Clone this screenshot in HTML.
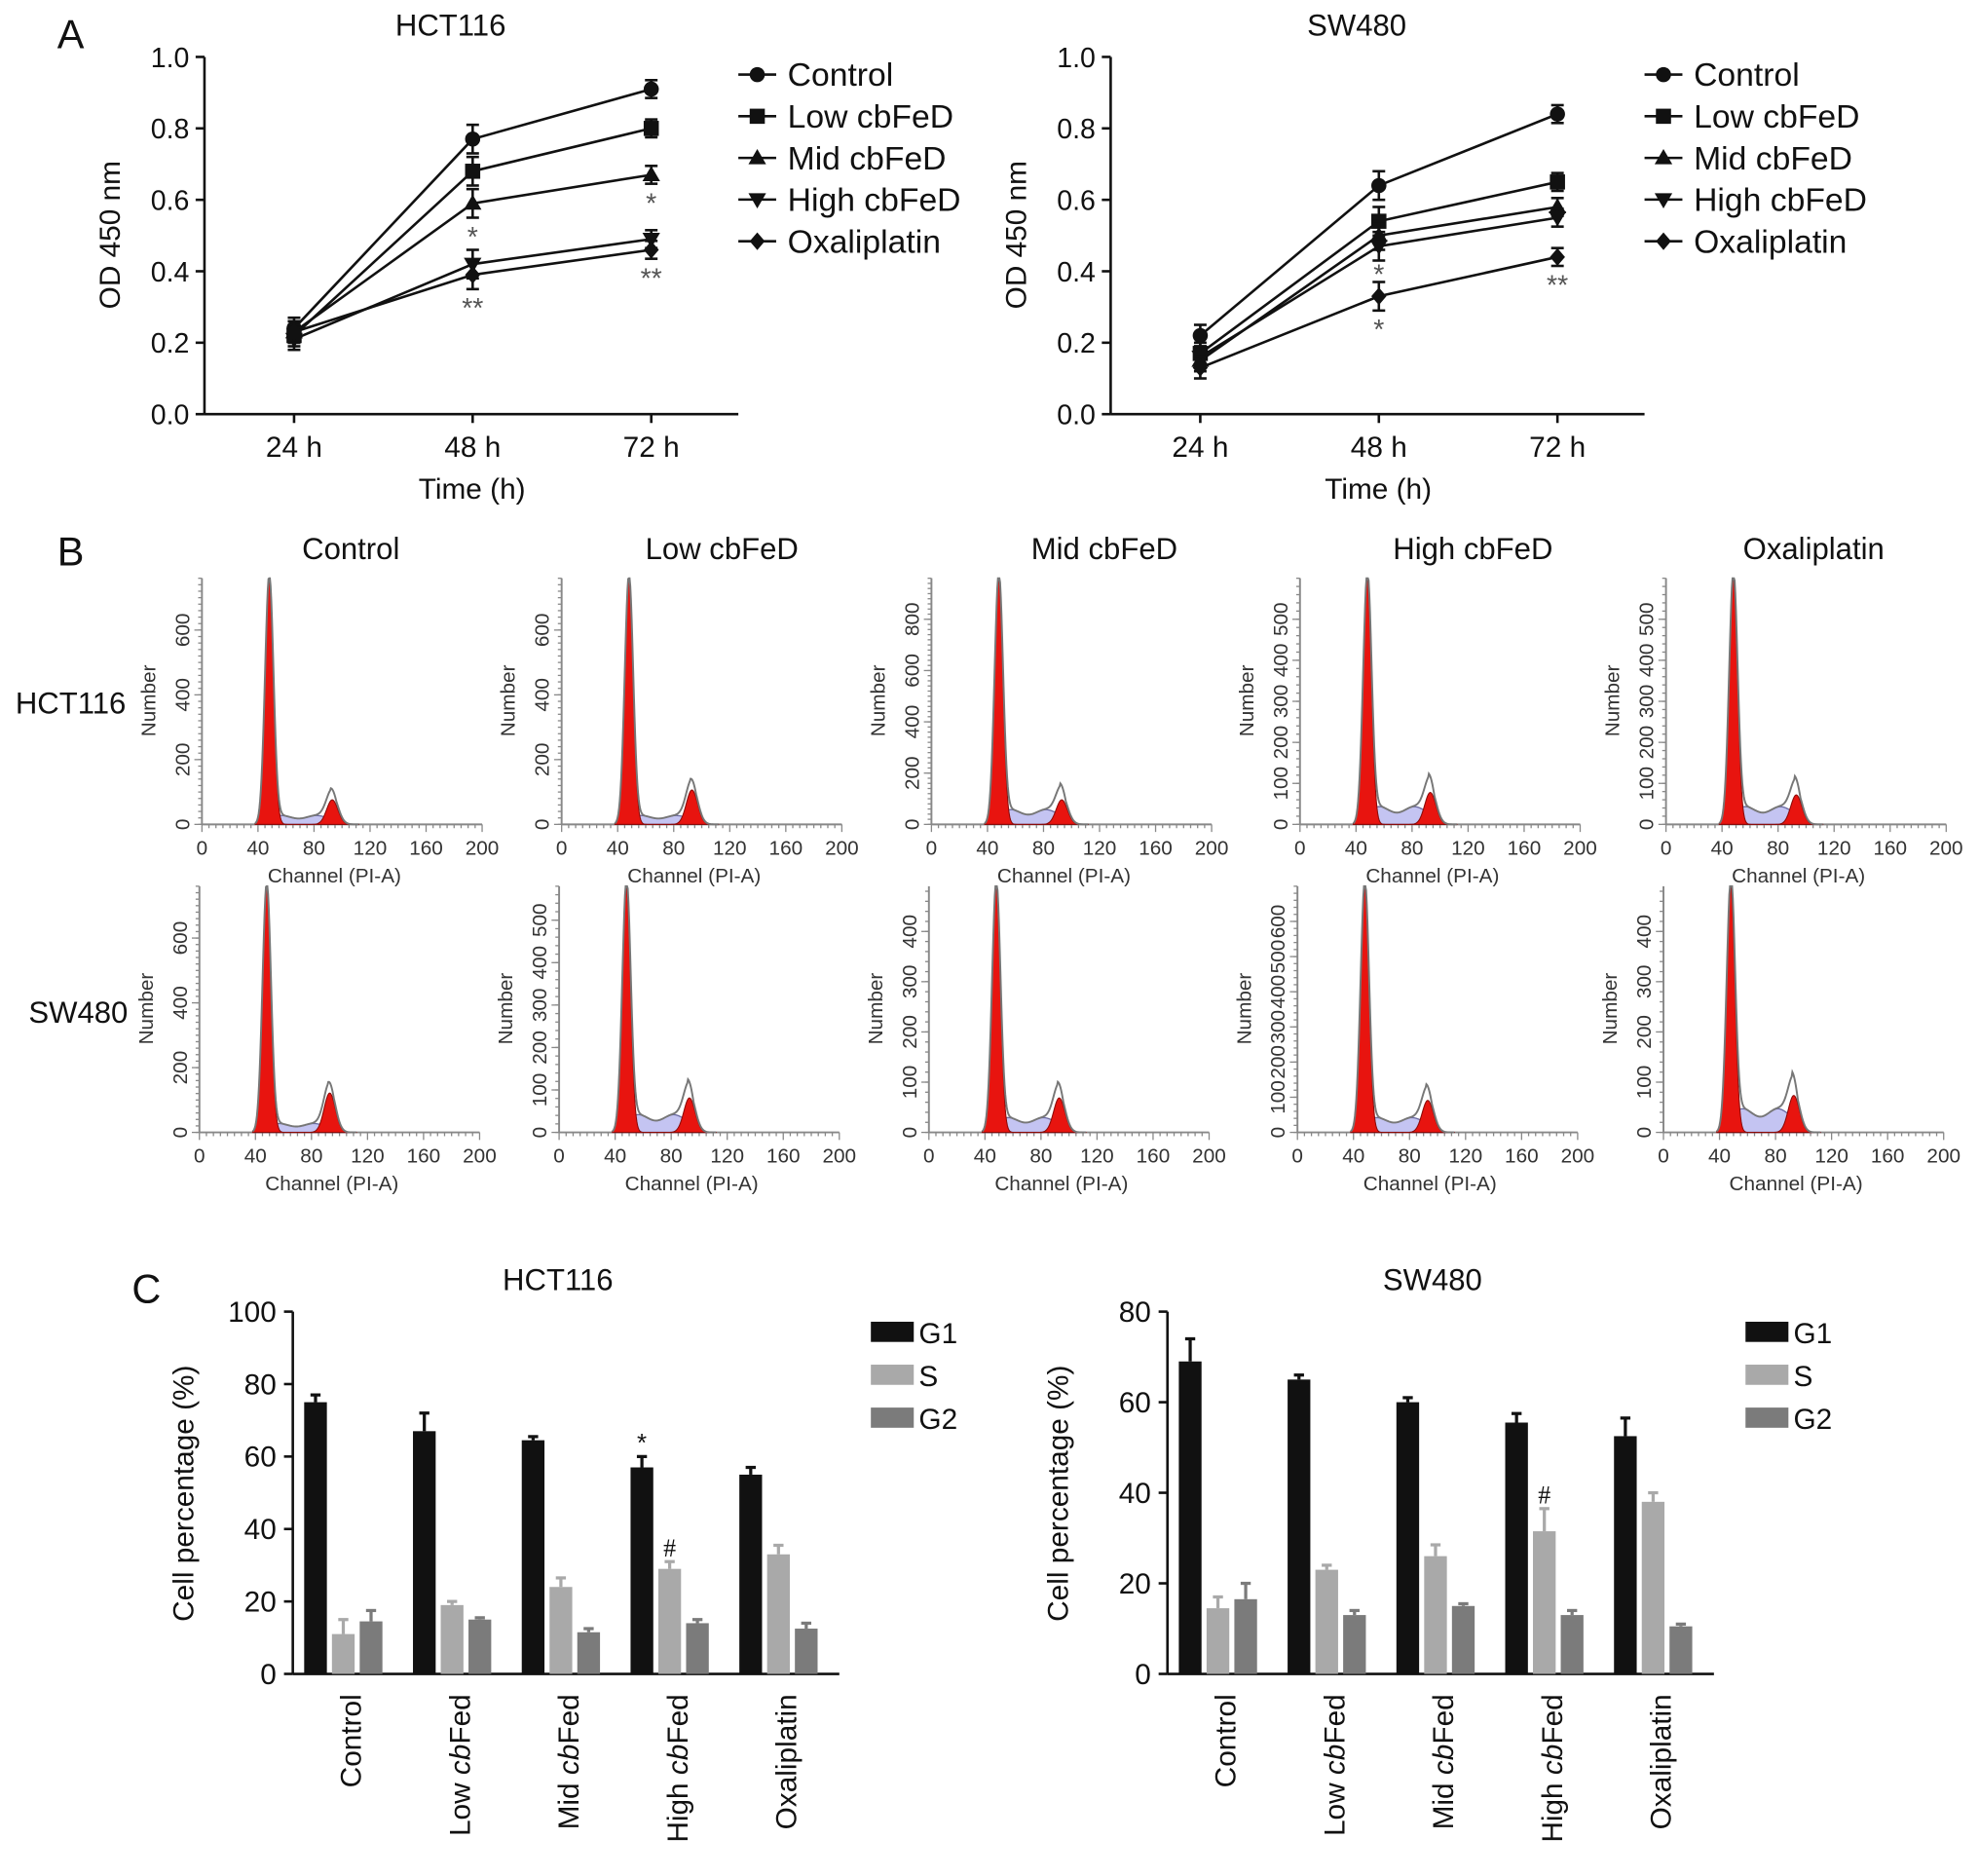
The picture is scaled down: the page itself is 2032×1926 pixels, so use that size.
<!DOCTYPE html>
<html><head><meta charset="utf-8"><style>
html,body{margin:0;padding:0;background:#fff}
svg{display:block;font-family:"Liberation Sans",Arial,sans-serif}
</style></head><body>
<svg id="fig" width="2032" height="1926" viewBox="0 0 1568 1486" xmlns="http://www.w3.org/2000/svg">
<rect width="1568" height="1486" fill="#fff"/>
<g id="root"></g>
</svg>
<script>
// ---------- Panel A data ----------
const timeLabels = ["24 h","48 h","72 h"];
const seriesNames = ["Control","Low cbFeD","Mid cbFeD","High cbFeD","Oxaliplatin"];
const hctControl = [0.24,0.77,0.91];
const hctLow = [0.22,0.68,0.80];
const hctMid = [0.23,0.59,0.67];
const hctHigh = [0.21,0.42,0.49];
const hctOxa = [0.23,0.39,0.46];
const swControl = [0.22,0.64,0.84];
const swLow = [0.17,0.54,0.65];
const swMid = [0.15,0.50,0.58];
const swHigh = [0.16,0.47,0.55];
const swOxa = [0.13,0.33,0.44];
const odErr = [0.03,0.04,0.025];
const odTicks = [0,0.2,0.4,0.6,0.8,1.0];
// ---------- Panel C data ----------
const cycleGroups = ["Control","Low","Mid","High","Oxaliplatin"];
const hctG1 = [75,67,64.5,57,55];
const hctS = [11,19,24,29,33];
const hctG2 = [14.5,15,11.5,14,12.5];
const hctG1e = [2,5,1,3,2];
const hctSe = [4,1,2.5,2,2.5];
const hctG2e = [3,0.5,1,1,1.5];
const swG1 = [69,65,60,55.5,52.5];
const swS = [14.5,23,26,31.5,38];
const swG2 = [16.5,13,15,13,10.5];
const swG1e = [5,1,1,2,4];
const swSe = [2.5,1,2.5,5,2];
const swG2e = [3.5,1,0.5,1,0.5];
const hctTicks = [0,20,40,60,80,100];
const swTicks = [0,20,40,60,80];
// ---------- Panel B data ----------
const histTitles = ["Control","Low cbFeD","Mid cbFeD","High cbFeD","Oxaliplatin"];
const histMax1 = [760,760,960,600,600];
const histTicks1 = [[0,200,400,600],[0,200,400,600],[0,200,400,600,800],[0,100,200,300,400,500],[0,100,200,300,400,500]];
const g2Frac1 = [0.10,0.14,0.10,0.13,0.12];
const sFrac1 = [0.03,0.03,0.05,0.06,0.06];
const histMax2 = [760,580,490,700,490];
const histTicks2 = [[0,200,400,600],[0,100,200,300,400,500],[0,100,200,300,400],[0,100,200,300,400,500,600],[0,100,200,300,400]];
const g2Frac2 = [0.16,0.14,0.14,0.13,0.15];
const sFrac2 = [0.03,0.06,0.05,0.05,0.08];

const NS="http://www.w3.org/2000/svg";
const root=document.getElementById('root');
function el(tag,attrs,parent){const e=document.createElementNS(NS,tag);for(const k in attrs)e.setAttribute(k,attrs[k]);(parent||root).appendChild(e);return e;}
function txt(s,x,y,size,anchor,parent,extra){const t=el('text',Object.assign({x:x,y:y,'font-size':size,'text-anchor':anchor||'middle',fill:'#111'},extra||{}),parent);t.textContent=s;return t;}

[["A",56,38],["B",56,448],["C",116,1032]].forEach(p=>{const t=txt(p[0],p[1],p[2],32,'middle');

});

// ---------- Panel A ----------
function lineChart(ox,title,series){
  const g=el('g',{});
  
  
  const x0=ox, x1=ox+423, yTop=45, yBot=328;
  const xs=i=>ox+71+i*141.5;
  const ys=v=>yBot-(v/1.0)*(yBot-yTop);
  el('line',{x1:x0,y1:yTop,x2:x0,y2:yBot,stroke:'#111','stroke-width':2},g);
  el('line',{x1:x0,y1:yBot,x2:x1,y2:yBot,stroke:'#111','stroke-width':2},g);
  odTicks.forEach(v=>{el('line',{x1:x0-7,y1:ys(v),x2:x0,y2:ys(v),stroke:'#111','stroke-width':2},g);
    txt(v.toFixed(1),x0-12,ys(v)+8,22,'end',g);});
  timeLabels.forEach((l,i)=>{el('line',{x1:xs(i),y1:yBot,x2:xs(i),y2:yBot+7,stroke:'#111','stroke-width':2},g);txt(l,xs(i),362,23,'middle',g);});
  txt("Time (h)",ox+212,395,23,'middle',g);
  const yl=txt("OD 450 nm",0,0,23,'middle',g,{transform:`translate(${ox-67},186) rotate(-90)`});
  
  txt(title,ox+195,28,24,'middle',g);
  const markers=['circle','square','tri','tridown','diamond'];
  function marker(kind,x,y,gg){
    if(kind==='circle')return el('circle',{cx:x,cy:y,r:6,fill:'#111'},gg);
    if(kind==='square')return el('rect',{x:x-6,y:y-6,width:12,height:12,fill:'#111'},gg);
    if(kind==='tri')return el('polygon',{points:`${x},${y-7} ${x-7},${y+5} ${x+7},${y+5}`,fill:'#111'},gg);
    if(kind==='tridown')return el('polygon',{points:`${x},${y+7} ${x-7},${y-5} ${x+7},${y-5}`,fill:'#111'},gg);
    return el('polygon',{points:`${x},${y-7} ${x+6},${y} ${x},${y+7} ${x-6},${y}`,fill:'#111'},gg);
  }
  series.forEach((s,si)=>{
    const sg=el('g',{},g);
    
    
    el('polyline',{points:s.map((v,i)=>xs(i)+','+ys(v)).join(' '),fill:'none',stroke:'#111','stroke-width':2},sg);
    s.forEach((v,i)=>{
      const e=odErr[i];
      el('line',{x1:xs(i),y1:ys(v-e),x2:xs(i),y2:ys(v+e),stroke:'#111','stroke-width':2},sg);
      el('line',{x1:xs(i)-5,y1:ys(v+e),x2:xs(i)+5,y2:ys(v+e),stroke:'#111','stroke-width':2},sg);
      el('line',{x1:xs(i)-5,y1:ys(v-e),x2:xs(i)+5,y2:ys(v-e),stroke:'#111','stroke-width':2},sg);
      const m=marker(markers[si],xs(i),ys(v),sg);
      
      
    });
    const ly=59+si*33;
    const lg=el('g',{},g);
    
    
    el('line',{x1:x1,y1:ly,x2:x1+30,y2:ly,stroke:'#111','stroke-width':2},lg);
    marker(markers[si],x1+15,ly,lg);
    txt(seriesNames[si],x1+39,ly+9,26,'start',lg);
  });
  return {g,xs,ys};
}
function star(ch,chart,i,v,off){txt(ch,chart.xs(i),chart.ys(v)+off,22,'middle',chart.g,{fill:'#555'});}
const A1=lineChart(162,"HCT116",[hctControl,hctLow,hctMid,hctHigh,hctOxa]);
star("*",A1,1,hctMid[1],34);
star("**",A1,1,hctOxa[1],34);
star("*",A1,2,hctMid[2],30);
star("**",A1,2,hctOxa[2],30);
const A2=lineChart(880,"SW480",[swControl,swLow,swMid,swHigh,swOxa]);
star("*",A2,1,swHigh[1],30);
star("*",A2,1,swOxa[1],34);
star("**",A2,2,swOxa[2],30);

// ---------- Panel B ----------
const colX=[160,445,738,1030,1320];
txt("HCT116",56,565,24,'middle');
txt("SW480",62,810,24,'middle');
histTitles.forEach((t,i)=>txt(t,[278,572,875,1167,1437][i],443,24,'middle'));
function hist(ox,base,maxV,ticks,g2f,sf,name){
  const g=el('g',{});
  
  
  const w=222,h=195,top=base-h;
  const xs=c=>ox+c/200*w;
  const ys=f=>base-f*h;
  el('line',{x1:ox,y1:top,x2:ox,y2:base,stroke:'#888','stroke-width':1.5},g);
  el('line',{x1:ox,y1:base,x2:ox+w,y2:base,stroke:'#888','stroke-width':1.5},g);
  for(let c=0;c<=200;c+=5){el('line',{x1:xs(c),y1:base,x2:xs(c),y2:base+(c%40===0?6:3),stroke:'#888'},g);}
  [0,40,80,120,160,200].forEach(c=>txt(String(c),xs(c),base+24,16,'middle',g,{fill:'#333'}));
  for(let k=0;k<=maxV;k+=20){const y=base-k/maxV*h;el('line',{x1:ox-3,y1:y,x2:ox,y2:y,stroke:'#888'},g);}
  ticks.forEach(v=>{const y=base-v/maxV*h;el('line',{x1:ox-6,y1:y,x2:ox,y2:y,stroke:'#888'},g);
    txt(String(v),0,0,16,'middle',g,{fill:'#333',transform:`translate(${ox-10},${y}) rotate(-90)`});});
  txt("Number",0,0,16,'middle',g,{fill:'#333',transform:`translate(${ox-37},${base-98}) rotate(-90)`});
  txt("Channel (PI-A)",ox+w/2-6,base+46,16,'middle',g,{fill:'#333'});
  const gauss=(c,m,s)=>Math.exp(-((c-m)*(c-m))/(2*s*s));
  let sPts=[],totPts=[],g1Pts=[],g2Pts=[];
  for(let c=38;c<=112;c+=0.5){
    const g1=gauss(c,48,3);
    const g2=g2f*gauss(c,93,4);
    const s=(c>50&&c<92)?sf*(1+0.2*Math.sin(c/4)):sf*Math.max(0,1-Math.abs(c<=50?50-c:c-92)/4);
    g1Pts.push(xs(c)+','+ys(g1));g2Pts.push(xs(c)+','+ys(g2));
    sPts.push(xs(c)+','+ys(s));totPts.push(xs(c)+','+ys(Math.min(1,g1+g2+s+0.02*gauss(c,93,5))));
  }
  const bx=xs(38),ex=xs(112);
  el('polygon',{points:`${bx},${base} ${sPts.join(' ')} ${ex},${base}`,fill:'#c4c4f2',stroke:'#6a6aa0','stroke-width':1},g);
  el('polygon',{points:`${bx},${base} ${g1Pts.join(' ')} ${ex},${base}`,fill:'#e8140f',stroke:'#8a0a08','stroke-width':0.8},g);
  el('polygon',{points:`${bx},${base} ${g2Pts.join(' ')} ${ex},${base}`,fill:'#e8140f',stroke:'#8a0a08','stroke-width':0.8},g);
  el('polyline',{points:totPts.join(' '),fill:'none',stroke:'#777','stroke-width':1.5},g);
}
colX.forEach((x,i)=>hist(x,653,histMax1[i],histTicks1[i],g2Frac1[i],sFrac1[i],'histogram-hct116-'+i));
colX.forEach((x,i)=>hist(x-2,897,histMax2[i],histTicks2[i],g2Frac2[i],sFrac2[i],'histogram-sw480-'+i));

// ---------- Panel C ----------
function barChart(ox,maxV,ticks,title,G1,S,G2,E1,ES,E2,marks){
  const g=el('g',{});
  
  
  const yTop=1039,yBot=1326,x1=ox+433;
  const ys=v=>yBot-v/maxV*(yBot-yTop);
  const gx=i=>ox+36+i*86.2;
  el('line',{x1:ox,y1:yTop,x2:ox,y2:yBot,stroke:'#111','stroke-width':2},g);
  el('line',{x1:ox,y1:yBot,x2:x1,y2:yBot,stroke:'#111','stroke-width':2},g);
  ticks.forEach(v=>{el('line',{x1:ox-7,y1:ys(v),x2:ox,y2:ys(v),stroke:'#111','stroke-width':2},g);txt(String(v),ox-13,ys(v)+8,23,'end',g);});
  txt("Cell percentage (%)",0,0,23,'middle',g,{transform:`translate(${ox-79},1183) rotate(-90)`});
  txt(title,ox+210,1022,24,'middle',g);
  const cols=['#111','#a9a9a9','#7b7b7b'];
  [[G1,E1],[S,ES],[G2,E2]].forEach((pair,k)=>{
    pair[0].forEach((v,i)=>{
      const x=gx(i)-27+k*22;
      const r=el('rect',{x:x,y:ys(v),width:18,height:yBot-ys(v),fill:cols[k]},g);
      
      
      const e=pair[1][i];
      el('line',{x1:x+9,y1:ys(v),x2:x+9,y2:ys(v+e),stroke:cols[k],'stroke-width':2.5},g);
      el('line',{x1:x+5,y1:ys(v+e),x2:x+13,y2:ys(v+e),stroke:cols[k],'stroke-width':2.5},g);
    });
  });
  cycleGroups.forEach((n,i)=>{
    const t=el('text',{transform:`translate(${gx(i)+18},1342) rotate(-90)`,'font-size':23,'text-anchor':'end',fill:'#111'},g);
    if(n==='Control'||n==='Oxaliplatin'){t.textContent=n;}
    else{const a=el('tspan',{},t);a.textContent=n+' ';const b=el('tspan',{'font-style':'italic'},t);b.textContent='cb';const c=el('tspan',{},t);c.textContent='Fed';}
  });
  ['G1','S','G2'].forEach((n,k)=>{
    const lg=el('g',{},g);
    
    
    el('rect',{x:x1+25,y:1047+k*34,width:34,height:16,fill:cols[k]},lg);
    txt(n,x1+63,1064+k*34,23,'start',lg);
  });
  marks(g,gx,ys);
}
barChart(232,100,hctTicks,"HCT116",hctG1,hctS,hctG2,hctG1e,hctSe,hctG2e,(g,gx,ys)=>{
  txt("*",gx(3)-18,ys(hctG1[3]+hctG1e[3])-4,20,'middle',g);
  txt("#",gx(3)+4,ys(hctS[3]+hctSe[3])-4,20,'middle',g,{'font-family':'Liberation Serif, serif'});
});
barChart(925,80,swTicks,"SW480",swG1,swS,swG2,swG1e,swSe,swG2e,(g,gx,ys)=>{
  txt("#",gx(3)+4,ys(swS[3]+swSe[3])-4,20,'middle',g,{'font-family':'Liberation Serif, serif'});
});
</script>
</body></html>
